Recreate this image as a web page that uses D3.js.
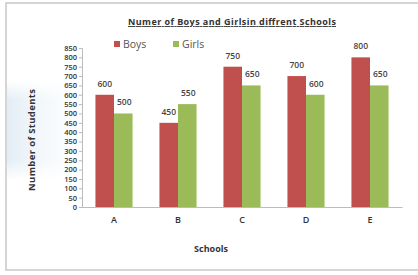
<!DOCTYPE html>
<html>
<head>
<meta charset="utf-8">
<script src="https://cdn.jsdelivr.net/npm/d3@7"></script>
<style>
	body { margin: 0; background: #fff; }
	text { font-family: "Open Sans", "DejaVu Sans", sans-serif; }
</style>
</head>
<body>
<svg id="chart" width="418" height="275"></svg>
<script>
// chart data
var schools = ["A", "B", "C", "D", "E"];
var seriesNames = ["Boys", "Girls"];
var boys = [600, 450, 750, 700, 800];
var girls = [500, 550, 650, 600, 650];
var yTicks = d3.range(0, 851, 50);

var colors = { Boys: "#C0504D", Girls: "#9BBB59" };

var svg = d3.select("#chart");

// faint bluish band on the left, and the chart frame
var defs = svg.append("defs");
var grad = defs.append("linearGradient").attr("id", "band").attr("x1", 0).attr("x2", 1);
grad.append("stop").attr("offset", "0%").attr("stop-color", "#e3edf5");
grad.append("stop").attr("offset", "100%").attr("stop-color", "#ffffff").attr("stop-opacity", 0);
var vgrad = defs.append("linearGradient").attr("id", "bandMask").attr("x1", 0).attr("x2", 0).attr("y1", 0).attr("y2", 1);
vgrad.append("stop").attr("offset", "0%").attr("stop-color", "#fff").attr("stop-opacity", 0);
vgrad.append("stop").attr("offset", "20%").attr("stop-color", "#fff").attr("stop-opacity", 1);
vgrad.append("stop").attr("offset", "80%").attr("stop-color", "#fff").attr("stop-opacity", 1);
vgrad.append("stop").attr("offset", "100%").attr("stop-color", "#fff").attr("stop-opacity", 0);
defs.append("mask").attr("id", "fade")
	.append("rect").attr("x", 0).attr("y", 80).attr("width", 120).attr("height", 100)
	.attr("fill", "url(#bandMask)");

svg.append("rect")
	.attr("x", 7).attr("y", 80).attr("width", 100).attr("height", 100)
	.attr("fill", "url(#band)").attr("mask", "url(#fade)");

svg.append("rect")
	.attr("x", 6).attr("y", 3).attr("width", 420).attr("height", 267)
	.attr("fill", "none").attr("stroke", "#c8c8c8").attr("stroke-width", 1.5);

var margin = { left: 82, right: 16, top: 48, bottom: 68 };
var width = 418 - margin.left - margin.right;
var height = 275 - margin.top - margin.bottom;

var g = svg.append("g").attr("transform", "translate(" + margin.left + "," + margin.top + ")");

var x = d3.scaleBand().domain(schools).range([0, width]).paddingInner(0.42).paddingOuter(0.21);
var xs = d3.scaleBand().domain(seriesNames).range([0, x.bandwidth()]);
var y = d3.scaleLinear().domain([0, 850]).range([height, 0]);

// y axis, labels squeezed like the original
var yAxis = g.append("g")
	.call(d3.axisLeft(y).tickValues(yTicks).tickSize(3).tickPadding(2));
yAxis.select(".domain").attr("stroke", "#bbb");
yAxis.selectAll(".tick line").attr("stroke", "#bbb");
yAxis.selectAll("text")
	.attr("font-size", "7.5px").attr("fill", "#333").attr("font-weight", "600")
	.attr("font-family", "'DejaVu Sans Condensed', 'Liberation Sans Narrow', sans-serif");

// x axis
var xAxis = g.append("g")
	.attr("transform", "translate(0," + height + ")")
	.call(d3.axisBottom(x).tickSize(0).tickPadding(10));
xAxis.select(".domain").attr("stroke", "#bbb");
xAxis.selectAll("text").attr("font-size", "9px").attr("fill", "#333").attr("font-weight", "600");

var rows = schools.map(function(s, i)
{
	return { school: s, values: [{ name: "Boys", value: boys[i] }, { name: "Girls", value: girls[i] }] };
});

var groups = g.selectAll("g.school").data(rows).enter().append("g")
	.classed("school", 1)
	.attr("transform", function(d) { return "translate(" + x(d.school) + ",0)"; });

groups.selectAll("rect").data(function(d) { return d.values; }).enter().append("rect")
	.attr("x", function(d) { return xs(d.name); })
	.attr("y", function(d) { return y(d.value); })
	.attr("width", xs.bandwidth())
	.attr("height", function(d) { return height - y(d.value); })
	.attr("fill", function(d) { return colors[d.name]; });

groups.selectAll("text.val").data(function(d) { return d.values; }).enter().append("text")
	.classed("val", 1)
	.attr("x", function(d) { return xs(d.name) + xs.bandwidth() / 2 + (d.name == "Girls" ? 1 : 0); })
	.attr("y", function(d) { return y(d.value) - 8; })
	.attr("text-anchor", "middle")
	.attr("font-size", "8.5px")
	.attr("font-weight", "600")
	.attr("fill", "#444")
	.text(function(d) { return d.value; });

// title
svg.append("text")
	.attr("x", 232).attr("y", 25)
	.attr("text-anchor", "middle")
	.attr("font-size", "9px")
	.attr("font-weight", "bold")
	.attr("fill", "#333")
	.attr("text-decoration", "underline")
	.attr("textLength", 208)
	.text("Numer of Boys and Girlsin diffrent Schools");

// legend
var legend = svg.append("g").selectAll("g").data(seriesNames).enter().append("g")
	.attr("transform", function(d, i) { return "translate(" + (114 + i * 59) + ",45)"; });
legend.append("rect").attr("y", -4).attr("width", 6).attr("height", 6)
	.attr("fill", function(d) { return colors[d]; });
legend.append("text").attr("x", 9).attr("y", 2).attr("dy", "0.1em")
	.attr("font-size", "10.5px").attr("fill", "#555")
	.text(function(d) { return d; });

// axis titles
svg.append("text")
	.attr("transform", "translate(35,140) rotate(-90)")
	.attr("text-anchor", "middle")
	.attr("font-size", "9.5px").attr("font-weight", "bold").attr("fill", "#333")
	.attr("textLength", 102)
	.text("Number of Students");

svg.append("text")
	.attr("x", 211).attr("y", 252)
	.attr("text-anchor", "middle")
	.attr("font-size", "9px").attr("font-weight", "bold").attr("fill", "#333")
	.text("Schools");
</script>
</body>
</html>
